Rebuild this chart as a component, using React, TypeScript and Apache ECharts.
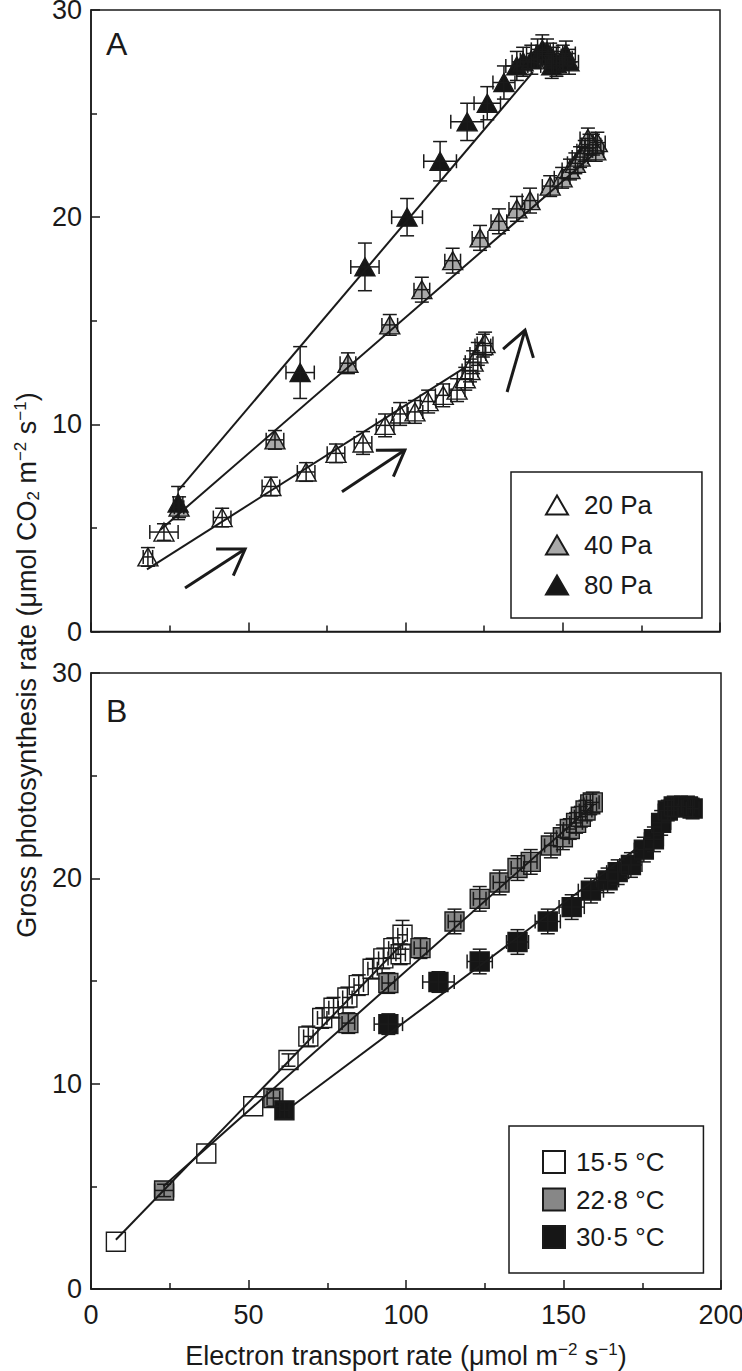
import React, { useEffect, useRef } from "react";
import * as echarts from "echarts";

const FONT = "'Liberation Sans', Arial, Helvetica, sans-serif";
const INK = "#1a1a1a";

// Axis ticks (shared by both panels)
const xTicks = [0, 50, 100, 150, 200];
const yTicks = [0, 10, 20, 30];

// Panel A — CO2 partial pressure. Each row: [ETR, gross photosynthesis, ETR s.e., A s.e.]
const a20Pa: number[][] = [
  [18.1, 3.6, 1.5, 0.45], [23.2, 4.8, 4.5, 0.4], [41.7, 5.5, 2.8, 0.45], [57.2, 7.0, 2.8, 0.45],
  [68.4, 7.7, 2.8, 0.45], [77.9, 8.6, 2.8, 0.45], [86.5, 9.1, 2.8, 0.55], [93.5, 9.95, 2.8, 0.55],
  [98.3, 10.5, 2.5, 0.55], [103, 10.6, 2.5, 0.55], [107.2, 11.1, 2.5, 0.55], [112, 11.4, 2.5, 0.55],
  [116.4, 11.65, 2.5, 0.55], [119, 12.2, 2.5, 0.55], [120.5, 12.6, 2.5, 0.55], [121.5, 13.0, 2.5, 0.55],
  [123, 13.4, 2.5, 0.55], [124.6, 13.8, 2.5, 0.55], [125.3, 13.9, 2.5, 0.55],
];
const a40Pa: number[][] = [
  [28, 6.0, 1.5, 0.5], [58.5, 9.25, 2.8, 0.45], [81.7, 12.95, 2.5, 0.5], [95, 14.8, 2.5, 0.5],
  [105.2, 16.5, 2.5, 0.6], [115, 17.9, 2.5, 0.6], [123.7, 19.0, 2.5, 0.6], [129.7, 19.8, 2.5, 0.6],
  [135.4, 20.4, 2.5, 0.6], [139.6, 20.8, 2.5, 0.6], [146, 21.5, 2.5, 0.5], [149.8, 21.9, 2.5, 0.5],
  [152.3, 22.3, 2.5, 0.5], [154, 22.6, 2.5, 0.5], [155.5, 22.9, 2.5, 0.5], [157, 23.2, 2.5, 0.5],
  [158.5, 23.5, 2.5, 0.5], [160.5, 23.2, 2.5, 0.5], [161, 23.6, 2.5, 0.5], [159.6, 23.5, 2.5, 0.5],
  [158, 23.8, 2.5, 0.5],
];
const a80Pa: number[][] = [
  [27.7, 6.2, 1.5, 0.8], [66.5, 12.5, 4.5, 1.25], [87.1, 17.6, 4.5, 1.15], [100.5, 20.0, 4.9, 0.9],
  [111, 22.7, 5.2, 0.95], [119.6, 24.6, 5.2, 0.9], [126, 25.5, 4.2, 0.8], [131.3, 26.5, 3.5, 0.8],
  [135.4, 27.3, 3.5, 0.7], [137.4, 27.5, 3.5, 0.7], [140, 27.6, 3.5, 0.7], [142, 27.9, 3.5, 0.7],
  [143.5, 28.1, 3.5, 0.7], [145, 28.0, 3.5, 0.6], [146, 27.8, 3.5, 0.6], [147, 27.6, 3.5, 0.6],
  [148, 27.4, 3.5, 0.6], [150, 27.7, 3, 0.6], [151, 27.9, 3, 0.6], [152, 27.5, 3, 0.6],
  [146.5, 27.3, 3.5, 0.6],
];
// Fitted lines, panel A: [[x start, y start], [x end, y end]]
const fitA20: number[][] = [[17.8, 3.0], [119.5, 12.8]];
const fitA40: number[][] = [[22, 4.9], [159.6, 23.0]];
const fitA80: number[][] = [[27.7, 6.8], [140.5, 27.0]];
// Arrows in panel A: [x tail, y tail, x head, y head]
const arrowsA: number[][] = [
  [29.9, 2.1, 49.0, 3.98],
  [79.8, 6.74, 99.8, 8.76],
  [132.3, 11.56, 138.0, 14.55],
];

// Panel B — leaf temperature
const b155: number[][] = [
  [7.9, 2.3, 0, 0], [36.6, 6.6, 0, 0], [51.5, 8.9, 0, 0], [62.7, 11.15, 0, 0.3],
  [69, 12.3, 1.5, 0.5], [73.4, 13.2, 1.5, 0.5], [77, 13.7, 1.5, 0.5], [81.4, 14.2, 1.5, 0.5],
  [85, 14.8, 1.5, 0.5], [89.4, 15.6, 1.5, 0.5], [92.8, 16.1, 1.5, 0.5], [96, 16.6, 1.5, 0.5],
  [98.3, 16.3, 1.5, 0.5], [98.9, 17.25, 1.5, 0.7],
];
const b228: number[][] = [
  [23.2, 4.8, 3, 0.3], [57.9, 9.3, 2, 0.4], [81.7, 12.95, 2, 0.5], [94.4, 14.9, 2, 0.5],
  [104.6, 16.6, 2, 0.5], [115.4, 17.9, 2, 0.6], [123.4, 19.0, 2, 0.6], [129.7, 19.8, 2, 0.6],
  [135.4, 20.5, 2, 0.6], [139.6, 20.8, 2, 0.6], [146, 21.6, 2, 0.6], [149.8, 22.0, 2, 0.6],
  [152, 22.4, 2, 0.5], [154, 22.7, 2, 0.5], [155.5, 23.0, 2, 0.5], [157, 23.3, 2, 0.5],
  [158.5, 23.6, 2, 0.5], [159.3, 23.7, 2, 0.5],
];
const b305: number[][] = [
  [61.4, 8.7, 1.5, 0.4], [94.4, 12.9, 4.5, 0.5], [110.3, 14.95, 5, 0.5], [123.4, 15.95, 4, 0.6],
  [135.4, 16.9, 3.5, 0.6], [145, 17.9, 4, 0.6], [152.6, 18.6, 4, 0.6], [158.7, 19.4, 4, 0.6],
  [164, 19.9, 3.5, 0.6], [167.2, 20.3, 3.5, 0.6], [171.4, 20.65, 3.5, 0.6], [175.5, 21.4, 3, 0.6],
  [178.7, 21.9, 3, 0.6], [181, 22.7, 3, 0.6], [183.1, 23.3, 3, 0.5], [185, 23.5, 3, 0.5],
  [187.3, 23.5, 3, 0.5], [189.5, 23.5, 2, 0.5], [191, 23.4, 2, 0.5],
];
const fitB155: number[][] = [[7.9, 2.4], [100, 17.0]];
const fitB228: number[][] = [[23, 5.0], [159.6, 23.6]];
const fitB305: number[][] = [[64.2, 8.95], [173.6, 21.5]];

const seriesA = [
  { name: "20 Pa", data: a20Pa, fill: "#ffffff", fit: fitA20 },
  { name: "40 Pa", data: a40Pa, fill: "#a9a9a9", fit: fitA40 },
  { name: "80 Pa", data: a80Pa, fill: "#161616", fit: fitA80 },
];
const seriesB = [
  { name: "15·5 °C", data: b155, fill: "#ffffff", fit: fitB155 },
  { name: "22·8 °C", data: b228, fill: "#878787", fit: fitB228 },
  { name: "30·5 °C", data: b305, fill: "#161616", fit: fitB305 },
];

function errorBarRender(_params: any, api: any) {
  const x = api.value(0);
  const y = api.value(1);
  const xe = api.value(2);
  const ye = api.value(3);
  const style = { stroke: INK, lineWidth: 1.5, fill: null };
  const cap = 7;
  const children: any[] = [];
  if (xe > 0) {
    const l = api.coord([x - xe, y]);
    const r = api.coord([x + xe, y]);
    children.push({ type: "line", shape: { x1: l[0], y1: l[1], x2: r[0], y2: r[1] }, style });
    children.push({ type: "line", shape: { x1: l[0], y1: l[1] - cap, x2: l[0], y2: l[1] + cap }, style });
    children.push({ type: "line", shape: { x1: r[0], y1: r[1] - cap, x2: r[0], y2: r[1] + cap }, style });
  }
  if (ye > 0) {
    const t = api.coord([x, y + ye]);
    const b = api.coord([x, y - ye]);
    children.push({ type: "line", shape: { x1: t[0], y1: t[1], x2: b[0], y2: b[1] }, style });
    children.push({ type: "line", shape: { x1: t[0] - cap, y1: t[1], x2: t[0] + cap, y2: t[1] }, style });
    children.push({ type: "line", shape: { x1: b[0] - cap, y1: b[1], x2: b[0] + cap, y2: b[1] }, style });
  }
  return { type: "group", children };
}

function arrowRender(_params: any, api: any) {
  const p0 = api.coord([api.value(0), api.value(1)]);
  const p1 = api.coord([api.value(2), api.value(3)]);
  const ang = Math.atan2(p0[1] - p1[1], p0[0] - p1[0]);
  const len = 29;
  const spread = (33 * Math.PI) / 180;
  const h1 = [p1[0] + len * Math.cos(ang + spread), p1[1] + len * Math.sin(ang + spread)];
  const h2 = [p1[0] + len * Math.cos(ang - spread), p1[1] + len * Math.sin(ang - spread)];
  const style = { stroke: INK, lineWidth: 3, fill: null };
  return {
    type: "group",
    children: [
      { type: "line", shape: { x1: p0[0], y1: p0[1], x2: p1[0], y2: p1[1] }, style },
      { type: "polyline", shape: { points: [h1, p1, h2] }, style },
    ],
  };
}

function buildOption() {
  const tickStyle = { color: INK, width: 1.5 };
  const makeX = (gridIndex: number, showLabels: boolean, extra: any = {}) => ({
    type: "value",
    gridIndex,
    min: xTicks[0],
    max: xTicks[xTicks.length - 1],
    interval: xTicks[1] - xTicks[0],
    axisLine: { show: true, lineStyle: tickStyle },
    axisTick: { show: true, inside: true, length: 9, lineStyle: tickStyle },
    minorTick: { show: true, splitNumber: 2, length: 6, lineStyle: tickStyle },
    splitLine: { show: false },
    minorSplitLine: { show: false },
    axisLabel: { show: showLabels, fontSize: 27, color: INK, fontFamily: FONT, margin: 12 },
    ...extra,
  });
  const makeY = (gridIndex: number) => ({
    type: "value",
    gridIndex,
    min: yTicks[0],
    max: yTicks[yTicks.length - 1],
    interval: yTicks[1] - yTicks[0],
    axisLine: { show: true, lineStyle: tickStyle },
    axisTick: { show: true, inside: true, length: 9, lineStyle: tickStyle },
    minorTick: { show: true, splitNumber: 2, length: 6, lineStyle: tickStyle },
    splitLine: { show: false },
    minorSplitLine: { show: false },
    axisLabel: { show: true, fontSize: 27, color: INK, fontFamily: FONT, margin: 9 },
  });

  const series: any[] = [];
  const addPanel = (defs: any[], gi: number, symbol: string, size: any) => {
    defs.forEach((d) => {
      series.push({
        type: "scatter",
        name: d.name,
        xAxisIndex: gi,
        yAxisIndex: gi,
        symbol,
        symbolSize: size,
        data: d.data.map((r: number[]) => [r[0], r[1]]),
        itemStyle: { color: d.fill, borderColor: INK, borderWidth: 1.4, opacity: 1 },
        emphasis: { disabled: true },
        z: 2,
      });
    });
    defs.forEach((d) => {
      series.push({
        type: "custom",
        name: d.name + " s.e.",
        xAxisIndex: gi,
        yAxisIndex: gi,
        renderItem: errorBarRender,
        encode: { x: 0, y: 1 },
        data: d.data,
        silent: true,
        z: 3,
      });
    });
    defs.forEach((d) => {
      series.push({
        type: "line",
        name: d.name + " fit",
        xAxisIndex: gi,
        yAxisIndex: gi,
        data: d.fit,
        symbol: "none",
        lineStyle: { color: INK, width: 2 },
        silent: true,
        z: 4,
      });
    });
  };
  addPanel(seriesA, 0, "triangle", [20, 18]);
  addPanel(seriesB, 1, "rect", 19);
  series.push({
    type: "custom",
    name: "arrows",
    xAxisIndex: 0,
    yAxisIndex: 0,
    renderItem: arrowRender,
    encode: { x: [0, 2], y: [1, 3] },
    data: arrowsA,
    silent: true,
    z: 5,
  });

  const legendBase = {
    orient: "vertical",
    selectedMode: false,
    borderColor: INK,
    borderWidth: 1.5,
    borderRadius: 0,
    itemWidth: 22,
    backgroundColor: "#fff",
    textStyle: { fontSize: 26, fontFamily: FONT, color: INK },
  };

  return {
    animation: false,
    backgroundColor: "#ffffff",
    grid: [
      { left: 91, top: 10, width: 629, height: 621.5, show: true, borderColor: INK, borderWidth: 1.5, backgroundColor: "transparent", outerBoundsMode: "none" },
      { left: 91, top: 673, width: 630, height: 616, show: true, borderColor: INK, borderWidth: 1.5, backgroundColor: "transparent", outerBoundsMode: "none" },
    ],
    xAxis: [
      makeX(0, false),
      makeX(1, true, {
        name: "{n|Electron transport rate (μmol m}{s|−2}{n| s}{s|−1}{n|)}",
        nameLocation: "middle",
        nameGap: 52,
        nameTextStyle: {
          rich: {
            n: { fontSize: 27, fontFamily: FONT, color: INK, lineHeight: 30 },
            s: { fontSize: 17, fontFamily: FONT, color: INK, lineHeight: 30, verticalAlign: "top", padding: [0, 0, 0, 0] },
          },
        },
      }),
    ],
    yAxis: [makeY(0), makeY(1)],
    legend: [
      {
        ...legendBase,
        left: 511,
        top: 472,
        padding: [20, 50, 20, 34],
        itemGap: 14,
        itemHeight: 19,
        textStyle: { ...legendBase.textStyle, padding: [0, 0, 0, 11] },
        data: seriesA.map((d) => ({ name: d.name, icon: "triangle" })),
      },
      {
        ...legendBase,
        left: 509,
        top: 1126,
        padding: [23, 39, 23, 33],
        itemGap: 11.5,
        itemHeight: 22,
        textStyle: { ...legendBase.textStyle, padding: [0, 0, 0, 6] },
        data: seriesB.map((d) => ({ name: d.name, icon: "rect" })),
      },
    ],
    graphic: [
      { type: "text", x: 106, y: 43.5, style: { text: "A", font: `32px ${FONT}`, fill: INK, verticalAlign: "middle" } },
      { type: "text", x: 106, y: 710.5, style: { text: "B", font: `32px ${FONT}`, fill: INK, verticalAlign: "middle" } },
      {
        type: "text",
        x: 27,
        y: 665,
        rotation: Math.PI / 2,
        style: {
          text: "{n|Gross photosynthesis rate (μmol CO}{b|2}{n| m}{s|−2}{n| s}{s|−1}{n|)}",
          align: "center",
          verticalAlign: "middle",
          rich: {
            n: { fontSize: 27, fontFamily: FONT, fill: INK, lineHeight: 30 },
            s: { fontSize: 17, fontFamily: FONT, fill: INK, lineHeight: 30, verticalAlign: "top" },
            b: { fontSize: 17, fontFamily: FONT, fill: INK, lineHeight: 30, verticalAlign: "bottom" },
          },
        },
      },
    ],
    series,
  };
}

export default function App() {
  const ref = useRef<HTMLDivElement>(null);
  useEffect(() => {
    if (!ref.current) return;
    const chart = echarts.init(ref.current, undefined, { renderer: "svg" });
    chart.setOption(buildOption() as any);
    return () => chart.dispose();
  }, []);
  return (
    <div
      ref={ref}
      style={{ position: "absolute", left: 0, top: 0, width: 742, height: 1371, background: "#fff" }}
    />
  );
}
